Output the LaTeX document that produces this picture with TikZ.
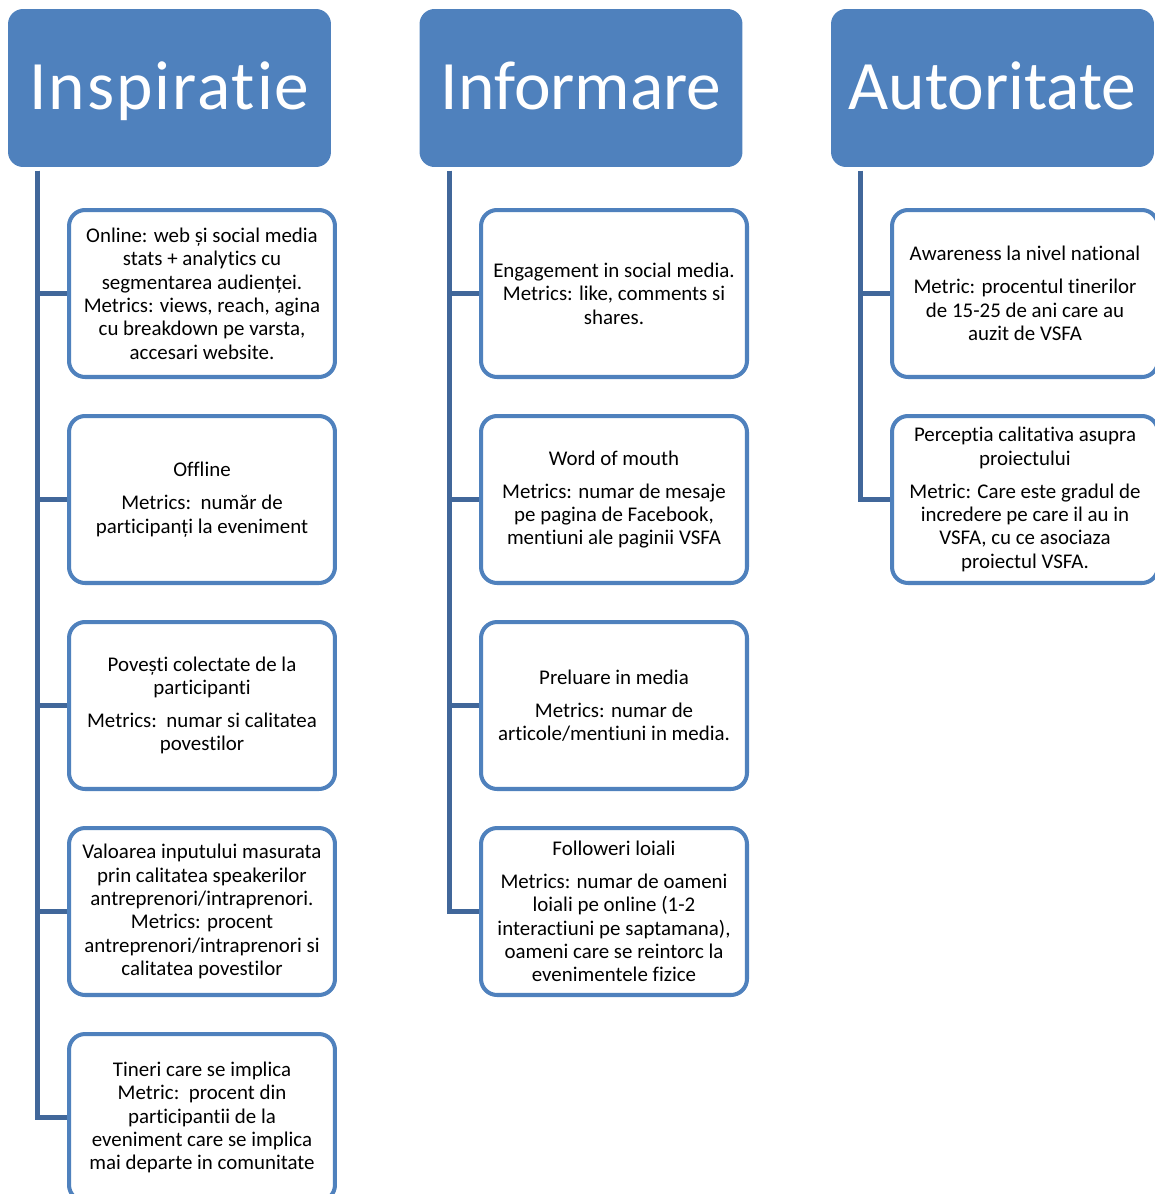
\documentclass[tikz,border=0pt]{standalone}
\usepackage{fontspec}
\setmainfont{Carlito}[RawFeature={-liga;-clig;-dlig;-calt}]
\definecolor{hdrblue}{HTML}{4F81BD}
\definecolor{linkblue}{HTML}{41679A}

\begin{document}
\begin{tikzpicture}[x=0.02cm,y=-0.02cm,
  hdr/.style={fill=hdrblue,draw=none,rounded corners=0.3cm,text=white,
    minimum width=6.46cm,minimum height=3.16cm,inner sep=0pt,
    text height=33pt,text depth=8pt,
    font=\fontsize{39.5}{46}\selectfont},
  leaf/.style={fill=white,draw=hdrblue,line width=2.3pt,rounded corners=0.32cm,
    minimum width=5.32cm,minimum height=3.34cm,inner sep=2pt,align=center,
    font=\fontsize{11.9}{13.3}\selectfont},
  link/.style={draw=linkblue,line width=2.8pt}]
\useasboundingbox (0,0) rectangle (1155,1194);
\clip (0,0) rectangle (1155,1194);
% headers
\node[hdr] (h1) at (169.5,88) {\addfontfeature{LetterSpace=2.8}Inspiratie};
\node[hdr] (h2) at (581,88) {Informare};
\node[hdr] (h3) at (992.5,88) {Autoritate};
% Inspiratie
\node[leaf] (b11) at (202,293.5) {Online: web și social media\\stats + analytics cu\\segmentarea audienței.\\Metrics: views, reach, agina\\cu breakdown pe varsta,\\accesari website.};
\node[leaf] (b12) at (202,499.5) {Offline\\[5.5pt]Metrics:\ \ număr de\\participanți la eveniment};
\node[leaf] (b13) at (202,705.5) {Povești colectate de la\\participanti\\[5.5pt]Metrics:\ \ numar si calitatea\\povestilor};
\node[leaf] (b14) at (202,911.5) {Valoarea inputului masurata\\prin calitatea speakerilor\\antreprenori/intraprenori.\\Metrics: procent\\antreprenori/intraprenori si\\calitatea povestilor};
\node[leaf] (b15) at (202,1117.5) {Tineri care se implica\\Metric:\ \ procent din\\participantii de la\\eveniment care se implica\\mai departe in comunitate};
% Informare
\node[leaf] (b21) at (614,293.5) {Engagement in social media.\\Metrics: like, comments si\\shares.};
\node[leaf] (b22) at (614,499.5) {Word of mouth\\[5.5pt]Metrics: numar de mesaje\\pe pagina de Facebook,\\mentiuni ale paginii VSFA};
\node[leaf] (b23) at (614,705.5) {Preluare in media\\[5.5pt]Metrics: numar de\\articole/mentiuni in media.};
\node[leaf] (b24) at (614,911.5) {Followeri loiali\\[5.5pt]Metrics: numar de oameni\\loiali pe online (1-2\\interactiuni pe saptamana),\\oameni care se reintorc la\\evenimentele fizice};
% Autoritate
\node[leaf] (b31) at (1025,293.5) {Awareness la nivel national\\[5.5pt]Metric: procentul tinerilor\\de 15-25 de ani care au\\auzit de VSFA};
\node[leaf] (b32) at (1025,499.5) {Perceptia calitativa asupra\\proiectului\\[5.5pt]Metric: Care este gradul de\\incredere pe care il au in\\VSFA, cu ce asociaza\\proiectul VSFA.};
% connectors
\foreach \c/\n in {1/5,2/4,3/2}{
  \foreach \i in {1,...,\n}
    \draw[link] ([xshift=0.6cm,yshift=-2pt]h\c.south west) |- (b\c\i.west);
}
\end{tikzpicture}
\end{document}
